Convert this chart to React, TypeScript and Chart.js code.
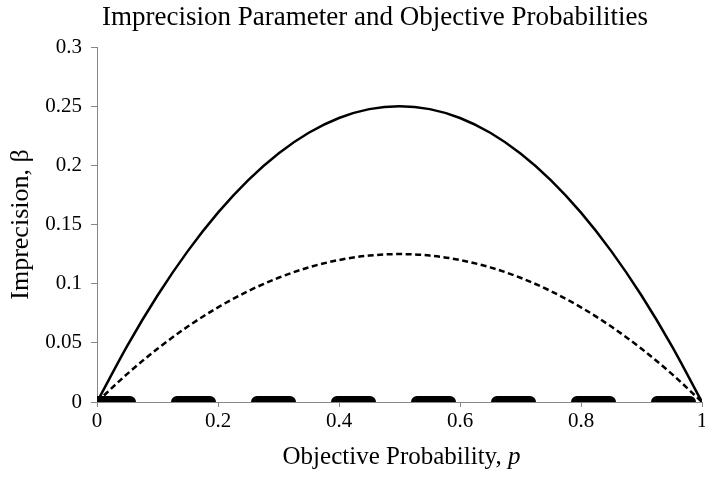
import React, { useEffect, useRef } from "react";
import { Chart, registerables } from "chart.js";

Chart.register(...registerables);

const pValues = [0, 0.05, 0.1, 0.15, 0.2, 0.25, 0.3, 0.35, 0.4, 0.45, 0.5, 0.55, 0.6, 0.65, 0.7, 0.75, 0.8, 0.85, 0.9, 0.95, 1];
const betaFull = [0, 0.0475, 0.09, 0.1275, 0.16, 0.1875, 0.21, 0.2275, 0.24, 0.2475, 0.25, 0.2475, 0.24, 0.2275, 0.21, 0.1875, 0.16, 0.1275, 0.09, 0.0475, 0];
const betaHalf = [0, 0.02375, 0.045, 0.06375, 0.08, 0.09375, 0.105, 0.11375, 0.12, 0.12375, 0.125, 0.12375, 0.12, 0.11375, 0.105, 0.09375, 0.08, 0.06375, 0.045, 0.02375, 0];
const zeroP = [0, 1];
const zeroBeta = [0, 0];
const xTicks = [0, 0.2, 0.4, 0.6, 0.8, 1];
const yTicks = [0, 0.05, 0.1, 0.15, 0.2, 0.25, 0.3];

const TITLE = "Imprecision Parameter and Objective Probabilities";
const X_TITLE_MAIN = "Objective Probability, ";
const X_TITLE_VAR = "p";
const Y_TITLE = "Imprecision, \u03b2";

const FONT = "'Liberation Serif', 'Times New Roman', serif";
const AXIS_COLOR = "#868686";

const textPlugin = {
  id: "customTitles",
  afterDraw(chart: any) {
    const ctx = chart.ctx;
    const area = chart.chartArea;
    ctx.save();
    ctx.fillStyle = "#000";
    ctx.textBaseline = "alphabetic";
    // chart title
    ctx.font = `normal 27px ${FONT}`;
    ctx.textAlign = "center";
    ctx.fillText(TITLE, 375, 25);
    // x-axis title with italic variable
    ctx.textAlign = "left";
    ctx.font = `normal 25px ${FONT}`;
    const w1 = ctx.measureText(X_TITLE_MAIN).width;
    ctx.font = `italic 25px ${FONT}`;
    const w2 = ctx.measureText(X_TITLE_VAR).width;
    const cx = (area.left + area.right) / 2 + 2;
    const x0 = cx - (w1 + w2) / 2;
    const y = 464;
    ctx.font = `normal 25px ${FONT}`;
    ctx.fillText(X_TITLE_MAIN, x0, y);
    ctx.font = `italic 25px ${FONT}`;
    ctx.fillText(X_TITLE_VAR, x0 + w1, y);
    ctx.restore();
  },
};

export default function App() {
  const ref = useRef<HTMLCanvasElement | null>(null);
  useEffect(() => {
    if (!ref.current) return;
    const toXY = (xs: number[], ys: number[]) => xs.map((x, i) => ({ x, y: ys[i] }));
    const chart = new Chart(ref.current, {
      type: "line",
      data: {
        datasets: [
          {
            label: "full",
            data: toXY(pValues, betaFull),
            borderColor: "#000",
            borderWidth: 2.5,
            pointRadius: 0,
            fill: false,
            cubicInterpolationMode: "monotone",
          },
          {
            label: "half",
            data: toXY(pValues, betaHalf),
            borderColor: "#000",
            borderWidth: 2.5,
            borderDash: [6, 3.5],
            pointRadius: 0,
            fill: false,
            cubicInterpolationMode: "monotone",
          },
          {
            label: "zero",
            data: toXY(zeroP, zeroBeta),
            borderColor: "#000",
            borderWidth: 12,
            borderDash: [33, 47],
            borderCapStyle: "round",
            pointRadius: 0,
            fill: false,
            clip: 0,
          } as any,
        ],
      },
      options: {
        responsive: false,
        animation: false,
        layout: { padding: { top: 47, left: 0, right: 3, bottom: 0 } },
        plugins: {
          legend: { display: false },
          tooltip: { enabled: false },
          title: { display: false },
        },
        scales: {
          x: {
            type: "linear",
            min: 0,
            max: 1,
            afterBuildTicks: (scale: any) => {
              scale.ticks = xTicks.map((v) => ({ value: v }));
            },
            afterFit: (scale: any) => {
              scale.height = 76;
              scale.paddingRight = 0;
              scale.paddingLeft = 0;
            },
            ticks: {
              color: "#000",
              font: { family: FONT, size: 21 },
              padding: 2,
              maxRotation: 0,
              callback: (v: any) => String(Number(Number(v).toFixed(2))),
            },
            grid: { drawOnChartArea: false, drawTicks: true, tickLength: 5, color: AXIS_COLOR },
            border: { display: true, color: AXIS_COLOR, width: 1 },
            title: { display: false },
          },
          y: {
            type: "linear",
            min: 0,
            max: 0.3,
            afterBuildTicks: (scale: any) => {
              scale.ticks = yTicks.map((v) => ({ value: v }));
            },
            afterFit: (scale: any) => {
              scale.width = 97;
              scale.paddingTop = 0;
              scale.paddingBottom = 0;
            },
            ticks: {
              color: "#000",
              font: { family: FONT, size: 21 },
              padding: 9,
              callback: (v: any) => String(Number(Number(v).toFixed(2))),
            },
            grid: { drawOnChartArea: false, drawTicks: true, tickLength: 6, color: AXIS_COLOR },
            border: { display: true, color: AXIS_COLOR, width: 1 },
            title: {
              display: true,
              text: Y_TITLE,
              color: "#000",
              font: { family: FONT, size: 26 },
              padding: { top: 6, bottom: 0 },
            },
          },
        },
      },
      plugins: [textPlugin],
    });
    return () => chart.destroy();
  }, []);
  return (
    <div style={{ position: "absolute", left: 0, top: 0, width: 705, height: 478, background: "#fff" }}>
      <canvas ref={ref} width={705} height={478} />
    </div>
  );
}
